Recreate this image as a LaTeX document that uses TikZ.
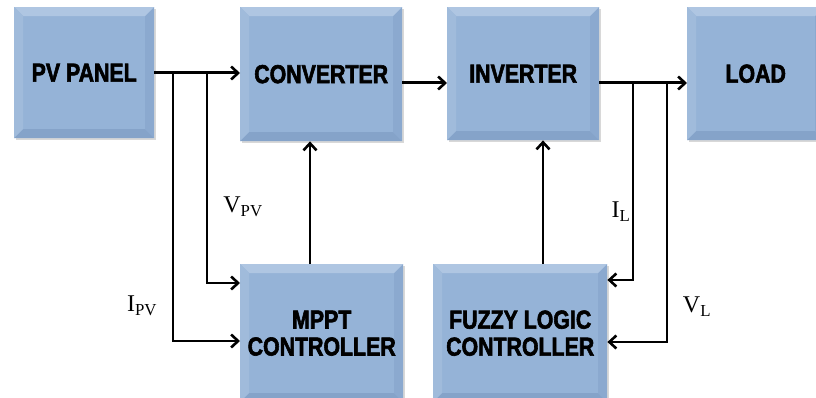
\documentclass[tikz,border=0pt]{standalone}
\usepackage{fontspec}
\usetikzlibrary{arrows.meta,shadows}
\newfontfamily\boxfont{Liberation Sans}[FakeStretch=0.82,FakeBold=2.2]
\newfontfamily\labelfont{Liberation Serif}
\definecolor{boxblue}{HTML}{95B3D7}
\definecolor{bevellight}{HTML}{AFC6E2}
\definecolor{beveldark}{HTML}{85A3C9}
\definecolor{bevelside}{HTML}{A0BBDB}
\tikzset{
  blockbox/.style={draw=none, fill=boxblue, anchor=north west,
    font=\boxfont\bfseries\fontsize{26}{28}\selectfont, align=center,
    drop shadow={opacity=0.3, shadow xshift=1.5pt, shadow yshift=-2pt},
    path picture={
      \fill[bevellight] (path picture bounding box.north west) -- (path picture bounding box.north east)
        -- ([shift={(-9pt,-9pt)}]path picture bounding box.north east)
        -- ([shift={(9pt,-9pt)}]path picture bounding box.north west) -- cycle;
      \fill[bevelside] (path picture bounding box.north west) -- (path picture bounding box.south west)
        -- ([shift={(9pt,9pt)}]path picture bounding box.south west)
        -- ([shift={(9pt,-9pt)}]path picture bounding box.north west) -- cycle;
      \fill[beveldark] (path picture bounding box.south west) -- (path picture bounding box.south east)
        -- ([shift={(-9pt,9pt)}]path picture bounding box.south east)
        -- ([shift={(9pt,9pt)}]path picture bounding box.south west) -- cycle;
      \fill[beveldark!60!boxblue] (path picture bounding box.north east) -- (path picture bounding box.south east)
        -- ([shift={(-9pt,9pt)}]path picture bounding box.south east)
        -- ([shift={(-9pt,-9pt)}]path picture bounding box.north east) -- cycle;
    }},
  mainflow/.style={line width=3pt, -{Straight Barb[length=7pt,width=13pt,line width=2.6pt]}},
  sideflow/.style={line width=2.2pt, -{Straight Barb[length=7pt,width=13pt,line width=2.6pt]}},
  siglabel/.style={font=\labelfont\fontsize{24}{26}\selectfont}
}
\begin{document}
\begin{tikzpicture}[x=1pt,y=-1pt]
\useasboundingbox (0,0) rectangle (816,398);
\fill[white] (0,0) rectangle (816,398);

% blocks
\node[blockbox, minimum width=140pt, minimum height=131pt] (pv) at (14,7) {PV PANEL};
\node[blockbox, minimum width=162pt, minimum height=134pt] (conv) at (240,7) {CONVERTER};
\node[blockbox, minimum width=152pt, minimum height=133pt] (inv) at (447,7) {INVERTER};
\node[blockbox, minimum width=137pt, minimum height=133pt] (load) at (687,7) {LOAD};
\node[blockbox, minimum width=163pt, minimum height=138pt] (mppt) at (240,264) {MPPT\\[-1pt]CONTROLLER};
\node[blockbox, minimum width=174pt, minimum height=138pt] (flc) at (433,264) {FUZZY LOGIC\\[-1pt]CONTROLLER};

% branch points on the power path
\coordinate (ipvtap) at (173,73);
\coordinate (vpvtap) at (207,73);
\coordinate (iltap) at (633,83);
\coordinate (vltap) at (667,83);

% power path
\draw[mainflow] (pv.east |- ipvtap) -- (conv.west |- ipvtap);
\draw[mainflow] (conv.east |- iltap) -- (inv.west |- iltap);
\draw[mainflow] (inv.east |- iltap) -- (load.west |- iltap);

% MPPT sensing inputs
\draw[sideflow] (vpvtap) |- ([yshift=-19pt]mppt.north west);
\draw[sideflow] (ipvtap) |- ([yshift=-77pt]mppt.north west);

% fuzzy controller sensing inputs
\draw[sideflow] (iltap) |- ([yshift=-16pt]flc.north east);
\draw[sideflow] (vltap) |- ([yshift=-78pt]flc.north east);

% control outputs
\draw[sideflow] (mppt.north -| 310,0) -- (conv.south -| 310,0);
\draw[sideflow] (flc.north -| 543,0) -- (inv.south -| 543,0);

% signal labels
\node[siglabel] (vpv) at (243,207) {V\textsubscript{PV}};
\node[siglabel] (ipv) at (142,306) {I\textsubscript{PV}};
\node[siglabel] (il) at (621,212) {I\textsubscript{L}};
\node[siglabel] (vl) at (697,307) {V\textsubscript{L}};
\end{tikzpicture}
\end{document}
